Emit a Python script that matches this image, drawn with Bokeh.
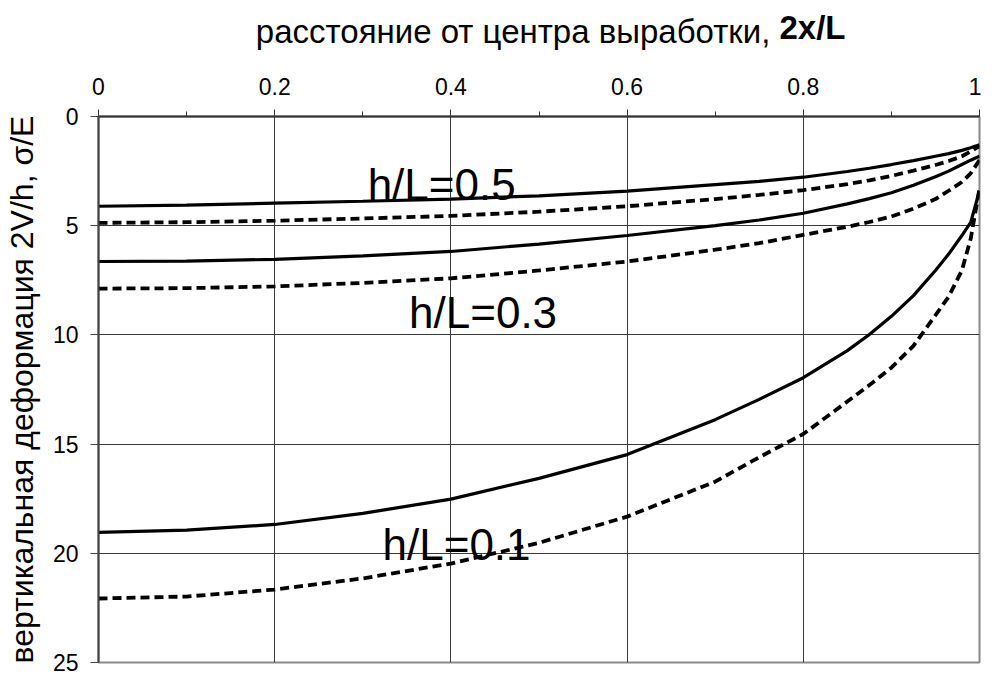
from bokeh.plotting import figure
from bokeh.models import Range1d, FixedTicker, Label
from bokeh.embed import file_html
from bokeh.resources import INLINE

# ---------------- data ----------------
x_vals = [0.0, 0.1, 0.2, 0.3, 0.4, 0.5, 0.6, 0.7, 0.75, 0.8, 0.85, 0.875, 0.9,
          0.925, 0.95, 0.965, 0.98, 0.99, 1.0]

solid_05  = [4.11, 4.06, 3.97, 3.88, 3.78, 3.63, 3.42, 3.12, 2.97, 2.78, 2.52, 2.37, 2.20,
             2.02, 1.82, 1.70, 1.55, 1.43, 1.30]
dashed_05 = [4.87, 4.84, 4.77, 4.67, 4.55, 4.36, 4.11, 3.78, 3.59, 3.37, 3.10, 2.92, 2.72,
             2.48, 2.22, 2.04, 1.82, 1.60, 1.35]
solid_03  = [6.64, 6.62, 6.54, 6.38, 6.18, 5.84, 5.45, 5.00, 4.74, 4.43, 4.00, 3.76, 3.49,
             3.15, 2.76, 2.50, 2.20, 2.00, 1.82]
dashed_03 = [7.88, 7.86, 7.78, 7.62, 7.41, 7.05, 6.64, 6.10, 5.80, 5.42, 5.05, 4.83, 4.58,
             4.22, 3.78, 3.40, 3.00, 2.60, 2.00]
solid_01  = [19.04, 18.94, 18.68, 18.17, 17.52, 16.57, 15.48, 13.88, 12.95, 11.96, 10.72, 9.98, 9.15,
             8.20, 7.05, 6.30, 5.45, 4.85, 3.40]
dashed_01 = [22.07, 21.98, 21.66, 21.15, 20.47, 19.52, 18.32, 16.72, 15.60, 14.54, 13.05, 12.30, 11.50,
             10.50, 9.10, 8.25, 7.05, 5.60, 3.30]

x_ticks = [0, 0.2, 0.4, 0.6, 0.8, 1.0]
x_tick_labels = ["0", "0.2", "0.4", "0.6", "0.8", "1"]
x_minor_ticks = [0.1, 0.3, 0.5, 0.7, 0.9]
y_ticks = [0, 5, 10, 15, 20, 25]
y_tick_labels = ["0", "5", "10", "15", "20", "25"]

curve_labels = ["h/L=0.5", "h/L=0.3", "h/L=0.1"]
title_main = "расстояние от центра выработки, "
title_bold = "2x/L"
y_title = "вертикальная деформация 2V/h, \u03c3/E"

FONT = "Liberation Sans"

# ---------------- figure ----------------
p = figure(width=981, height=675, output_backend="svg", toolbar_location=None,
           x_range=Range1d(0, 1), y_range=Range1d(25, 0),
           x_axis_location="above",
           min_border_left=96, min_border_right=2, min_border_top=98, min_border_bottom=13)
p.background_fill_color = "white"
p.border_fill_color = "white"
p.outline_line_color = "#8a8a8a"
p.outline_line_width = 2

# x axis (top)
xa = p.xaxis[0]
xa.ticker = FixedTicker(ticks=x_ticks, minor_ticks=x_minor_ticks)
xa.major_label_overrides = {t: l for t, l in zip(x_ticks, x_tick_labels)}
xa.major_label_text_font = FONT
xa.major_label_text_font_size = "23px"
xa.major_label_text_color = "black"
xa.major_label_standoff = 15
xa.major_tick_out = 7
xa.major_tick_in = 0
xa.minor_tick_out = 5
xa.minor_tick_in = 0
xa.axis_line_color = "#333333"
xa.axis_line_width = 2
xa.major_tick_line_color = "#333333"
xa.minor_tick_line_color = "#333333"

# y axis (left)
ya = p.yaxis[0]
ya.ticker = FixedTicker(ticks=y_ticks, minor_ticks=[])
ya.major_label_overrides = {t: l for t, l in zip(y_ticks, y_tick_labels)}
ya.major_label_text_font = FONT
ya.major_label_text_font_size = "23px"
ya.major_label_text_color = "black"
ya.major_label_standoff = 12
ya.major_tick_out = 8
ya.major_tick_in = 0
ya.axis_line_color = "#444444"
ya.axis_line_width = 2
ya.major_tick_line_color = "#444444"
ya.axis_label = y_title
ya.axis_label_text_font = FONT
ya.axis_label_text_font_size = "32px"
ya.axis_label_text_font_style = "normal"
ya.axis_label_text_color = "black"
ya.axis_label_standoff = 10

# grid
p.xgrid.ticker = FixedTicker(ticks=x_ticks)
p.ygrid.ticker = FixedTicker(ticks=y_ticks)
for g in (p.xgrid[0], p.ygrid[0]):
    g.grid_line_color = "#3a3a3a"
    g.grid_line_width = 1
    g.grid_line_alpha = 1.0

# curves
for ys in (solid_05, solid_03, solid_01):
    p.line(x_vals, ys, line_color="black", line_width=3.2)
for ys in (dashed_05, dashed_03, dashed_01):
    p.line(x_vals, ys, line_color="black", line_width=3.8, line_dash="9 5")

# curve labels
label_pos = [(0.3055, 3.13), (0.3525, 8.97), (0.3224, 19.6)]
for txt, (lx, ly) in zip(curve_labels, label_pos):
    p.add_layout(Label(x=lx, y=ly, text=txt, text_font=FONT,
                       text_font_size="44px", text_color="black",
                       text_align="left", text_baseline="alphabetic"))

# top title (normal + bold part), placed in side panels so it is not clipped
p.add_layout(Label(x=681, y=43, x_units="screen", y_units="screen", text=title_main,
                   text_font=FONT, text_font_size="33px", text_color="black",
                   text_align="right", text_baseline="alphabetic"), "above")
p.add_layout(Label(x=681, y=10, x_units="screen", y_units="screen", text=title_bold,
                   text_font=FONT, text_font_size="33px", text_font_style="bold",
                   text_color="black", text_align="left", text_baseline="alphabetic"), "above")

open("out.html", "w").write(file_html(p, INLINE))
